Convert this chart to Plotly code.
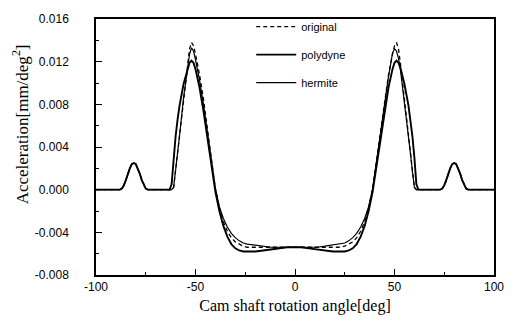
import plotly.graph_objects as go

# ---- data ----
angle = [-100, -88, -87, -86, -85, -84, -83, -82, -81, -80, -79, -78, -77, -76, -75, -74,
         -63, -62, -61, -60, -59, -58, -56, -54, -53, -52, -51, -50, -48, -46, -44, -42, -40,
         -38, -36, -34, -32, -30, -28, -26, -24, -20, -16, -12, -8, -4, 0,
         3, 7, 11, 15, 19, 23, 25, 27, 29, 31, 33, 35, 37, 39, 41, 43, 45, 47, 49, 50, 51,
         52, 53, 55, 57, 58, 59, 60, 61, 62,
         73, 74, 75, 76, 77, 78, 79, 80, 81, 82, 83, 84, 85, 86, 87, 100]

bump_left = [0, 0.0001, 0.0004, 0.0009, 0.0015, 0.0020, 0.0024, 0.0025, 0.0024, 0.0020,
             0.0015, 0.0009, 0.0004, 0.0001, 0]
bump_right = [0, 0.0001, 0.0004, 0.0009, 0.0015, 0.0020, 0.0024, 0.0025, 0.0024, 0.0020,
              0.0015, 0.0009, 0.0004, 0.0001, 0]

original_mid = [0, 0, 0.0002, 0.0018, 0.0035, 0.0052, 0.0087, 0.0118, 0.0132, 0.0138, 0.0135, 0.0127,
                0.0108, 0.0085, 0.0057, 0.0029, 0.0001, -0.0017, -0.0030, -0.0039, -0.0045, -0.0049,
                -0.0051, -0.0053, -0.0054, -0.0054, -0.0054, -0.0054, -0.0054, -0.0054, -0.0054,
                -0.0054, -0.0054, -0.0054, -0.0054, -0.0054, -0.0054, -0.0053, -0.0051, -0.0049,
                -0.0045, -0.0039, -0.0030, -0.0017, 0.0001, 0.0029, 0.0057, 0.0085, 0.0108, 0.0127,
                0.0135, 0.0138, 0.0132, 0.0118, 0.0087, 0.0052, 0.0035, 0.0018, 0.0002, 0, 0]

polydyne_mid = [0, 0.0005, 0.0030, 0.0050, 0.0066, 0.0079, 0.0099, 0.0114, 0.0119, 0.0121, 0.0119, 0.0113,
                0.0096, 0.0074, 0.0049, 0.0023, -0.0002, -0.0020, -0.0034, -0.0044, -0.0051, -0.0055,
                -0.0057, -0.0058, -0.0058, -0.0058, -0.0057, -0.0056, -0.0055, -0.0054, -0.0054,
                -0.0054, -0.0055, -0.0056, -0.0057, -0.0058, -0.0058, -0.0058, -0.0057, -0.0055,
                -0.0051, -0.0044, -0.0034, -0.0020, -0.0002, 0.0023, 0.0049, 0.0074, 0.0096, 0.0113,
                0.0119, 0.0121, 0.0119, 0.0114, 0.0099, 0.0079, 0.0066, 0.0050, 0.0030, 0.0005, 0]

hermite_mid = [0, 0, 0.0002, 0.0017, 0.0034, 0.0051, 0.0086, 0.0116, 0.0127, 0.0133, 0.0130, 0.0122,
               0.0103, 0.0080, 0.0054, 0.0027, 0.0001, -0.0016, -0.0027, -0.0035, -0.0041, -0.0045,
               -0.0048, -0.0050, -0.0051, -0.0052, -0.0053, -0.0054, -0.0054, -0.0054, -0.0054,
               -0.0054, -0.0054, -0.0054, -0.0053, -0.0052, -0.0051, -0.0050, -0.0048, -0.0045,
               -0.0041, -0.0035, -0.0027, -0.0016, 0.0001, 0.0027, 0.0054, 0.0081, 0.0106, 0.0128,
               0.0132, 0.0130, 0.0123, 0.0112, 0.0083, 0.0051, 0.0034, 0.0017, 0.0002, 0, 0]

x_tickvals = [-100, -50, 0, 50, 100]
x_ticktext = ["-100", "-50", "0", "50", "100"]
y_tickvals = [-0.008, -0.004, 0.0, 0.004, 0.008, 0.012, 0.016]
y_ticktext = ["-0.008", "-0.004", "0.000", "0.004", "0.008", "0.012", "0.016"]

original = [0] + bump_left + original_mid + bump_right + [0]
polydyne = [0] + bump_left + polydyne_mid + bump_right + [0]
hermite = [0] + bump_left + hermite_mid + bump_right + [0]

fig = go.Figure()
fig.add_trace(go.Scatter(x=angle, y=original, mode="lines", name="original", legendgroup="a",
                         line=dict(color="black", width=1.3, dash="4px,3px")))
fig.add_trace(go.Scatter(x=angle, y=polydyne, mode="lines", name="polydyne", legendgroup="b",
                         line=dict(color="black", width=1.9)))
fig.add_trace(go.Scatter(x=angle, y=hermite, mode="lines", name="hermite", legendgroup="c",
                         line=dict(color="black", width=1.2)))

tickfont = dict(family="Liberation Sans Narrow, Liberation Sans, Arial", size=12, color="black")

fig.update_xaxes(range=[-100, 100], tickvals=x_tickvals, ticktext=x_ticktext,
                 ticks="inside", ticklen=6, tickwidth=1, tickcolor="black",
                 minor=dict(tickvals=[-75, -25, 25, 75], ticks="inside", ticklen=3, tickcolor="black"),
                 showline=True, linecolor="black", linewidth=1.5, mirror=True,
                 showgrid=False, zeroline=False, tickfont=tickfont,
                 title=dict(text="Cam shaft rotation angle[deg]",
                            font=dict(family="Liberation Serif, Times New Roman", size=16, color="black"),
                            standoff=7))
fig.update_yaxes(range=[-0.008, 0.016], tickvals=y_tickvals, ticktext=y_ticktext,
                 ticks="inside", ticklen=6, tickwidth=1, tickcolor="black",
                 minor=dict(tickvals=[-0.006, -0.002, 0.002, 0.006, 0.010, 0.014],
                            ticks="inside", ticklen=3, tickcolor="black"),
                 showline=True, linecolor="black", linewidth=1.5, mirror=True,
                 showgrid=False, zeroline=False, tickfont=tickfont, ticklabelstandoff=23)

fig.add_annotation(text="Acceleration[mm/deg<sup>2</sup>]", textangle=-90,
                   xref="paper", yref="paper", x=-0.19, y=0.59, showarrow=False,
                   xanchor="center", yanchor="middle",
                   font=dict(family="Liberation Serif, Times New Roman", size=17, color="black"))

fig.update_layout(
    width=516, height=324,
    margin=dict(l=96, r=15, t=12, b=48),
    paper_bgcolor="white", plot_bgcolor="white",
    showlegend=True,
    legend=dict(x=0.39, y=1.027, xanchor="left", yanchor="top", itemwidth=40,
                bgcolor="rgba(0,0,0,0)", traceorder="grouped", tracegroupgap=9,
                font=dict(family="Liberation Sans, Arial", size=11, color="black")),
)

fig.write_html("out.html")
